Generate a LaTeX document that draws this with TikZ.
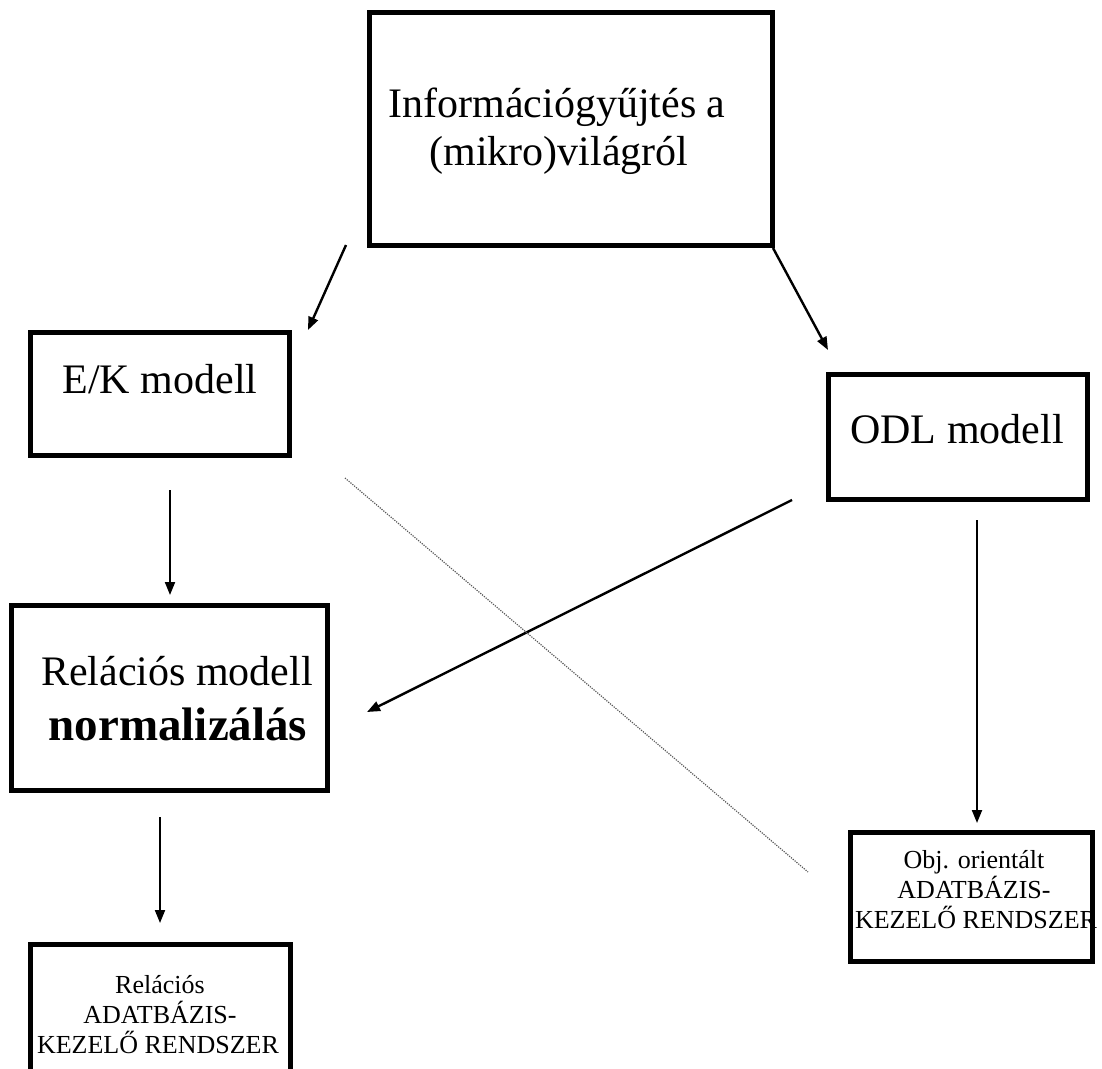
\documentclass[tikz,border=0pt]{standalone}
\usepackage{fontspec}
\setmainfont{Liberation Serif}
\usetikzlibrary{arrows.meta}
\begin{document}
\begin{tikzpicture}[x=1pt,y=-1pt,
  box/.style={draw, line width=5pt, inner sep=0pt},
  arr/.style={line width=2.4pt, -{Triangle[length=13pt,width=10pt]}},
  varr/.style={line width=2pt, -{Triangle[length=13pt,width=10pt]}},
  big/.style={font=\fontsize{42}{48}\selectfont, inner sep=0pt, anchor=base},
  bigbold/.style={font=\fontsize{47}{54}\selectfont\bfseries, inner sep=0pt, anchor=base},
  small/.style={font=\fontsize{26}{30}\selectfont, inner sep=0pt, anchor=base},
  hint/.style={line width=1.2pt, black!65, dash pattern=on 1.2pt off 1.2pt}]
\useasboundingbox (0,0) rectangle (1102,1068);
\clip (0,0) rectangle (1102,1068);

% boxes
\node[box, minimum width=403pt, minimum height=233pt] (info) at (571,129) {};
\node[box, minimum width=259pt, minimum height=123pt] (ek) at (160,394) {};
\node[box, minimum width=259pt, minimum height=125pt] (odl) at (958,437) {};
\node[box, minimum width=316pt, minimum height=185pt] (rel) at (169.5,698) {};
\node[box, minimum width=260pt, minimum height=143pt] (reldb) at (160.5,1016) {};
\node[box, minimum width=242pt, minimum height=129pt] (objdb) at (971.5,897) {};

% texts
\node[big] (info1) at (557,117) {Információgyűjtés a};
\node[big] (info2) at (559,165) {(mikro)világról};
\node[big] (ektx) at (160,393) {E/K modell};
\node[big] (odltx) at (957,443) {ODL modell};
\node[big] (rel1) at (177,685) {Relációs modell};
\node[bigbold] (rel2) at (178,740) {normalizálás};
\node[small] (rdb1) at (160,993) {Relációs};
\node[small] (rdb2) at (160,1023) {ADATBÁZIS-};
\node[small] (rdb3) at (158,1053) {KEZELŐ RENDSZER};
\node[small] (odb1) at (974,868) {Obj. orientált};
\node[small] (odb2) at (974,898) {ADATBÁZIS-};
\node[small] (odb3) at (976,928) {KEZELŐ RENDSZER};

% connector end points
\coordinate (a1s) at (346,245);  \coordinate (a1e) at (308,330);
\coordinate (a2s) at (773,248);  \coordinate (a2e) at (828,350);
\coordinate (a3s) at (170,490);  \coordinate (a3e) at (170,595);
\coordinate (a4s) at (792,500);  \coordinate (a4e) at (367,712);
\coordinate (a5s) at (977,520);  \coordinate (a5e) at (977,823);
\coordinate (a6s) at (160,817);  \coordinate (a6e) at (160,923);
\coordinate (d1) at (345,478);   \coordinate (d2) at (808,872);

% connectors
\draw[arr] (a1s) -- (a1e);
\draw[arr] (a2s) -- (a2e);
\draw[varr] (a3s) -- (a3e);
\draw[arr] (a4s) -- (a4e);
\draw[varr] (a5s) -- (a5e);
\draw[varr] (a6s) -- (a6e);
\draw[hint] (d1) -- (d2);
\end{tikzpicture}
\end{document}
